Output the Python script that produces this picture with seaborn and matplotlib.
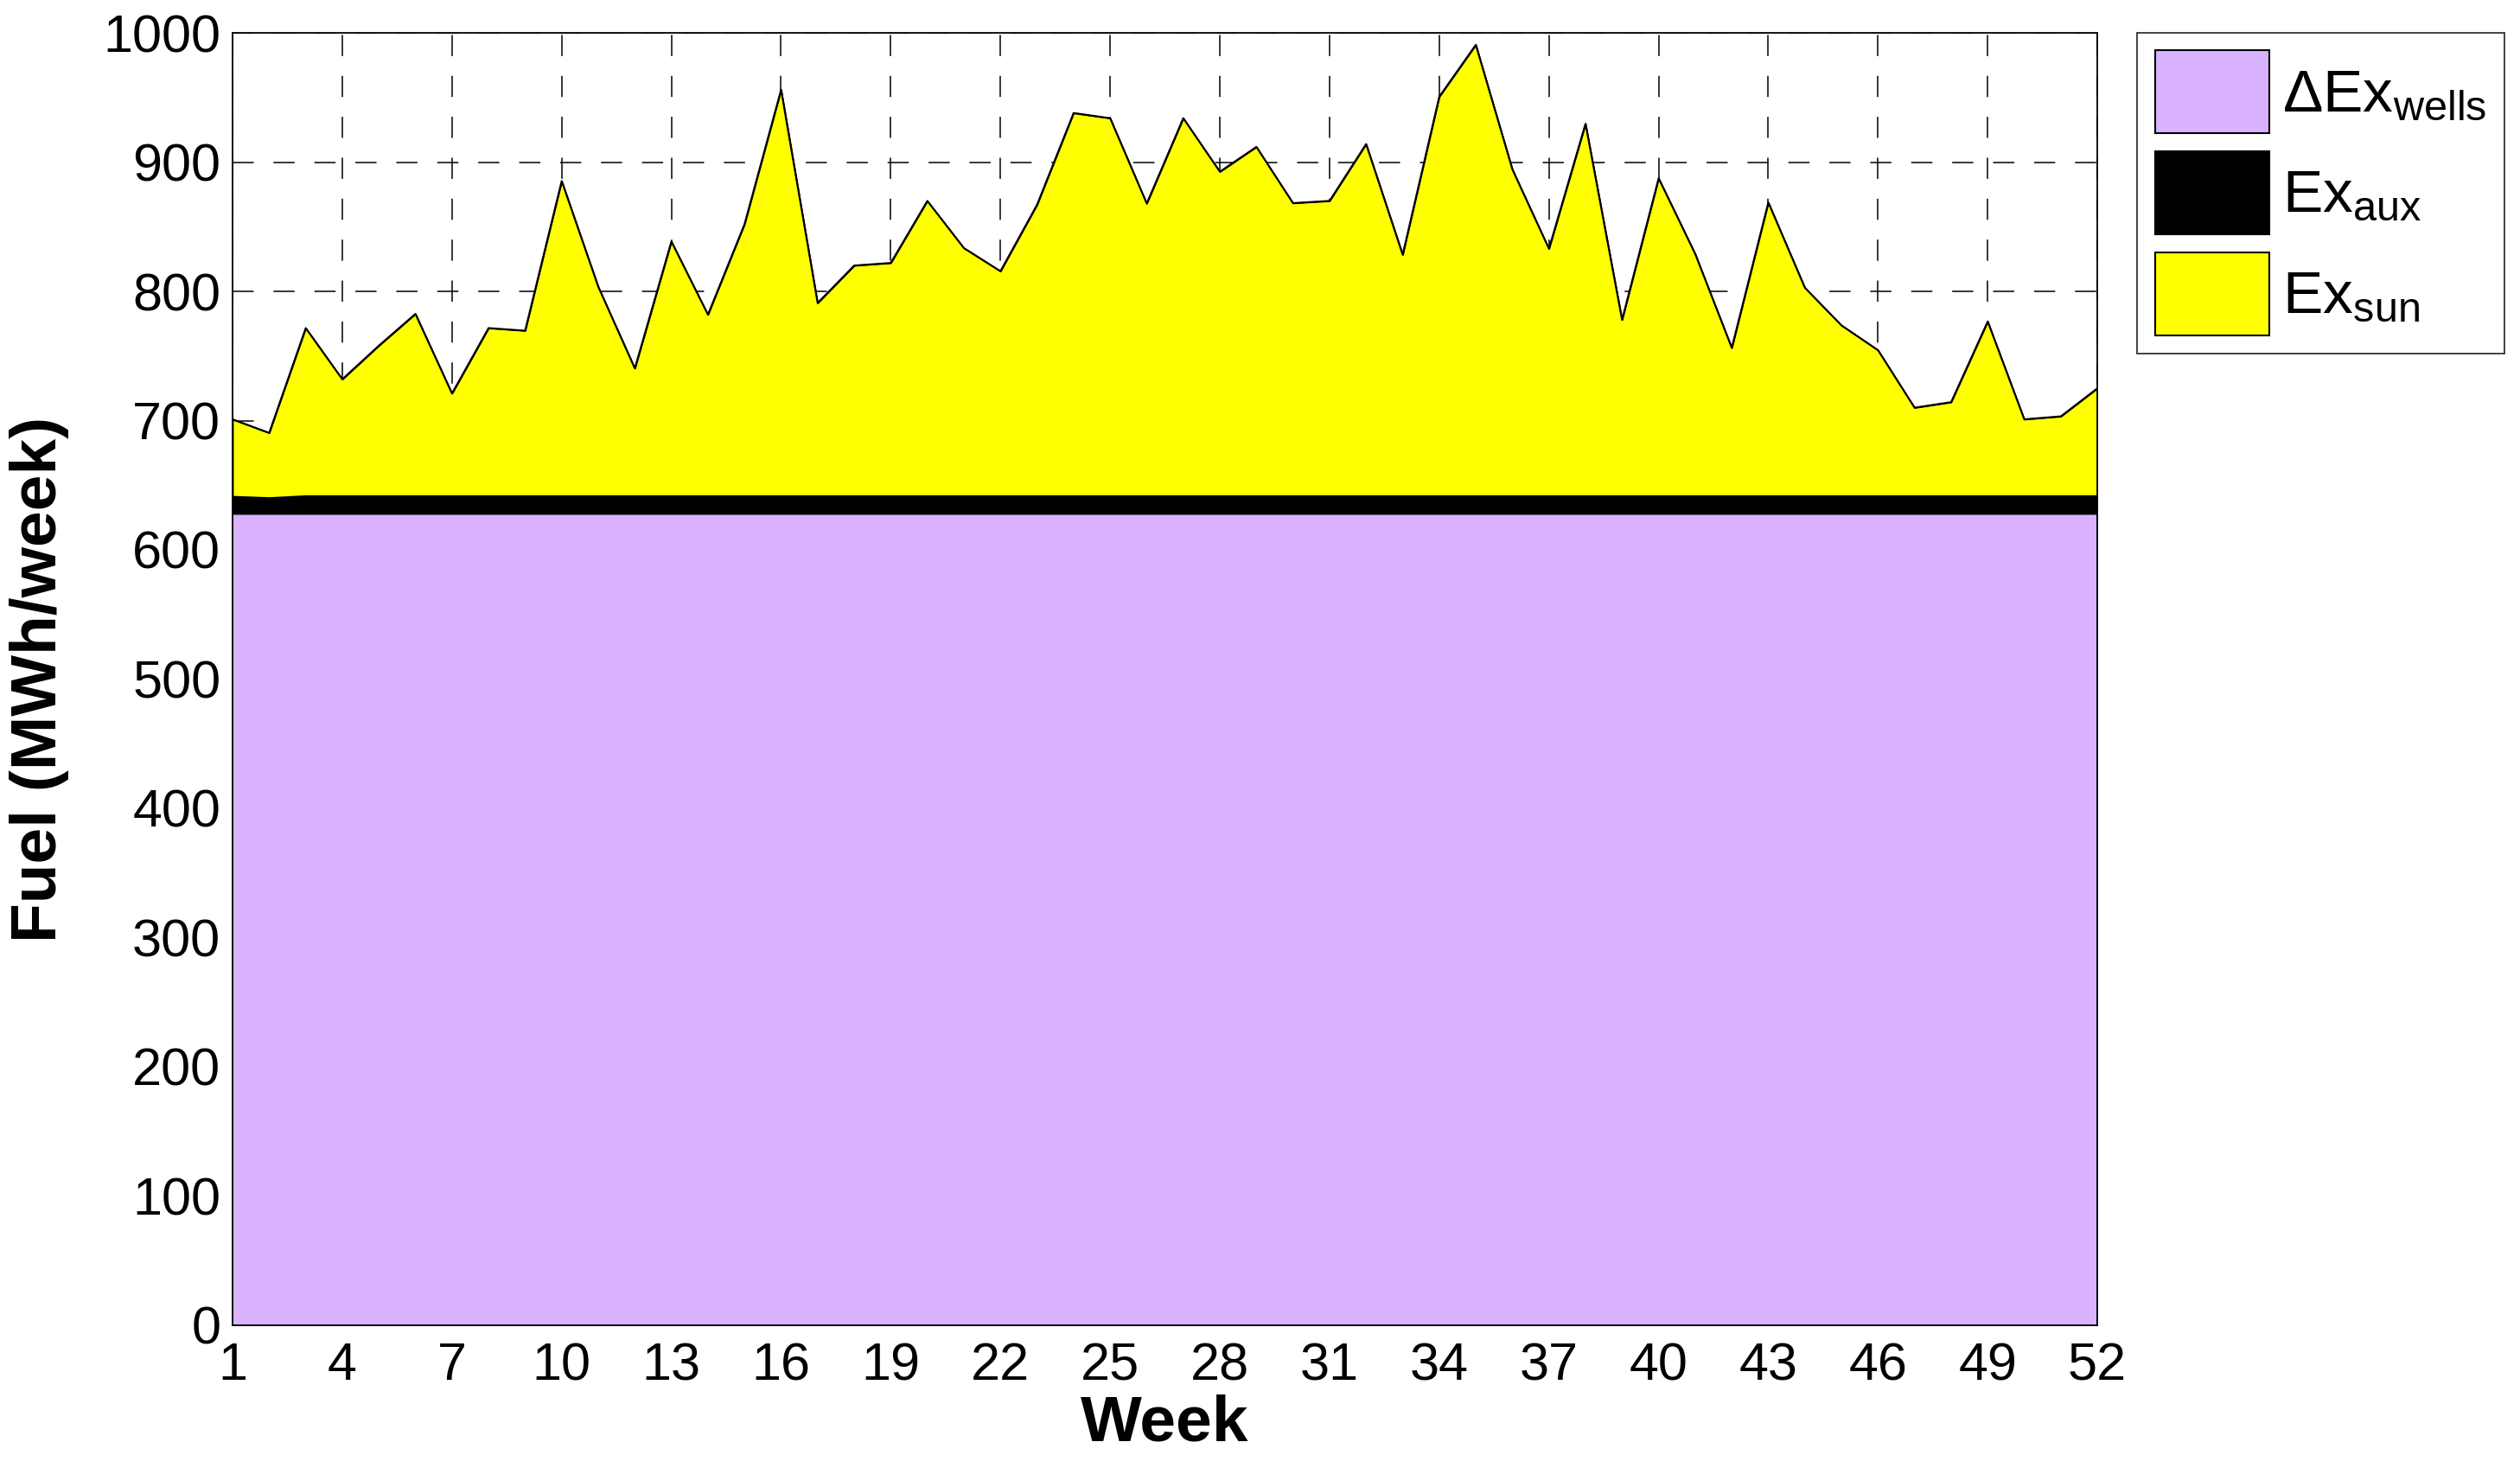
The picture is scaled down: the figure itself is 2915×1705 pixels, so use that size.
import numpy as np
import pandas as pd
import matplotlib
matplotlib.use("Agg")
import matplotlib.pyplot as plt
import matplotlib.patches as mpatches
import seaborn as sns

# data (MWh/week)
weeks = list(range(1, 53))
ex_wells = [628] * 52
ex_aux = [13.5, 12.5] + [14.0] * 50
ex_sun = [59.5, 50.0, 129.6, 90.0, 116.0, 140.6, 79.0, 129.6, 127.6, 243.4,
          161.6, 98.4, 196.6, 140.0, 210.0, 314.0, 149.0, 178.0, 180.0, 228.0,
          191.5, 173.6, 225.0, 296.0, 292.0, 226.0, 292.0, 250.6, 269.8, 226.3,
          228.0, 272.0, 186.4, 308.6, 348.8, 252.4, 191.0, 287.7, 136.0, 245.5,
          187.0, 114.3, 226.8, 160.8, 131.7, 112.5, 68.0, 72.3, 134.7, 59.0,
          61.3, 83.0]
labels = [r'$\Delta\mathrm{Ex}_{\mathrm{wells}}$', r'$\mathrm{Ex}_{\mathrm{aux}}$',
          r'$\mathrm{Ex}_{\mathrm{sun}}$']
colors = ['#D9B3FF', '#000000', '#FFFF00']
xticks = list(range(1, 53, 3))
yticks = list(range(0, 1001, 100))

df = pd.DataFrame({'week': weeks, 'wells': ex_wells, 'aux': ex_aux, 'sun': ex_sun})
df['top'] = df['wells'] + df['aux'] + df['sun']

sns.set_theme(style='white')
plt.rcParams['font.family'] = ['Liberation Sans', 'DejaVu Sans']
plt.rcParams['mathtext.fontset'] = 'custom'
plt.rcParams['mathtext.rm'] = 'Liberation Sans'
plt.rcParams['mathtext.it'] = 'Liberation Sans:italic'
plt.rcParams['mathtext.bf'] = 'Liberation Sans:bold'
plt.rcParams['text.color'] = 'black'
plt.rcParams['axes.labelcolor'] = 'black'

fig = plt.figure(figsize=(29.15, 17.05), dpi=100)
ax = fig.add_axes([0.0923, 0.1009, 0.740, 0.8768])

ax.stackplot(df['week'], df['wells'], df['aux'], df['sun'], colors=colors,
             edgecolor='black', linewidth=1.2, zorder=2)
sns.lineplot(data=df, x='week', y='top', color='black', linewidth=1.5, ax=ax, zorder=3)

ax.set_xlim(1, 52)
ax.set_ylim(0, 1000)
ax.set_xticks(xticks)
ax.set_yticks(yticks)
ax.set_axisbelow(True)
ax.grid(True, color='black', linewidth=1.1, linestyle=(0, (16, 15)))
ax.tick_params(axis='both', direction='in', length=8, width=1, labelsize=44,
               colors='black', pad=10)
ax.tick_params(axis='x', pad=14)
for s in ax.spines.values():
    s.set_color('black')
    s.set_linewidth(1.3)
    s.set_zorder(5)

ax.set_xlabel('Week', fontsize=54, fontweight='bold', labelpad=2, color='black')
ax.set_ylabel('Fuel (MWh/week)', fontsize=54, fontweight='bold', labelpad=28, color='black')

handles = [mpatches.Patch(facecolor=c, edgecolor='black', linewidth=1.5) for c in colors]
leg = fig.legend(handles, labels, loc='upper left', bbox_to_anchor=(0.848, 0.978),
                 fontsize=50, frameon=True, fancybox=False, edgecolor='black',
                 handlelength=1.9, handleheight=1.75, handletextpad=0.22,
                 labelspacing=0.3, borderpad=0.3, borderaxespad=0)
leg.get_frame().set_linewidth(1.3)

fig.savefig('out.png', dpi=100, facecolor='white')
